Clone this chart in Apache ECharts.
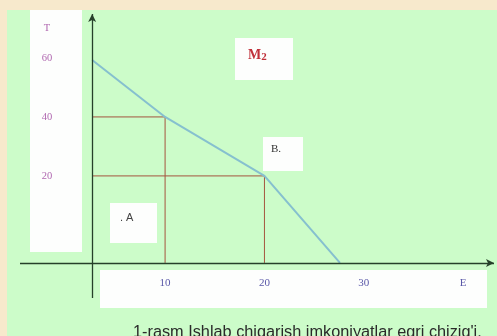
<!DOCTYPE html>
<html>
<head>
<meta charset="utf-8">
<script src="https://cdn.jsdelivr.net/npm/echarts@6/dist/echarts.min.js"></script>
<style>
  html, body { margin: 0; padding: 0; background: #f7e9cc; }
  #chart { width: 497px; height: 336px; }
</style>
</head>
<body>
<div id="chart"></div>
<script>
// tick labels (values on the axes)
const xTicks = [10, 20, 30, 40];
const xTickLabels = ['10', '20', '30', 'E'];
const yTicks = [20, 40, 60, 70];
const yTickLabels = ['20', '40', '60', 'T'];

// production possibilities curve
const curveE = [2.66, 10, 20, 27.6];
const curveT = [59.3, 40, 20, -9.5];

// guide lines (points A and B)
const guideE = [10, 20];
const guideT = [40, 20];

// where the drawn axes cross, and how far they run
const crossE = 2.66, crossT = -9.5;
const xRange = [-4.6, 43.1];
const yRange = [-21.4, 74.9];

const chart = echarts.init(document.getElementById('chart'));

const curveData = curveE.map((e, i) => [e, curveT[i]]);
const guideSeries = guideE.map((e, i) => ({
    type: 'line',
    data: [[crossE, guideT[i]], [e, guideT[i]], [e, crossT]],
    symbol: 'none',
    silent: true,
    lineStyle: { color: '#a4543e', width: 1 },
    z: 3
}));

const option = {
    animation: false,
    backgroundColor: '#f7e9cc',
    graphic: [
        // green sheet
        { type: 'rect', shape: { x: 7, y: 10, width: 490, height: 326 }, style: { fill: '#ccfcc9' }, z: -10 },
        // white label strips
        { type: 'rect', shape: { x: 30, y: 10, width: 52, height: 242 }, style: { fill: '#fdfefd' }, z: -5 },
        { type: 'rect', shape: { x: 100, y: 270, width: 387, height: 38 }, style: { fill: '#fdfefd' }, z: -5 },
        { type: 'rect', shape: { x: 235, y: 38, width: 58, height: 42 }, style: { fill: '#fdfefd' }, z: -5 },
        { type: 'rect', shape: { x: 263, y: 137, width: 40, height: 34 }, style: { fill: '#fdfefd' }, z: -5 },
        { type: 'rect', shape: { x: 110, y: 203, width: 47, height: 40 }, style: { fill: '#fdfefd' }, z: -5 },
        // annotations
        { type: 'text', left: 248, top: 48, style: { text: 'M{s|2}', fill: '#c0303a', font: 'bold 14px "Liberation Serif"',
            rich: { s: { fill: '#c0303a', fontSize: 11, fontWeight: 'bold', fontFamily: 'Liberation Serif', padding: [5, 0, 0, 0] } } }, z: 10 },
        { type: 'text', left: 271, top: 144, style: { text: 'B.', fill: '#333', font: '11px "Liberation Serif"' }, z: 10 },
        { type: 'text', left: 120, top: 212, style: { text: '. A', fill: '#444', font: '11px "Liberation Sans"' }, z: 10 },
        // caption
        { type: 'text', left: 133, top: 325, style: { text: "1-rasm Ishlab chiqarish imkoniyatlar egri chizig'i.", fill: '#2a2a2a', font: '16.3px "Liberation Sans"' }, z: 10 }
    ],
    grid: { left: 20, right: 3, top: 14, bottom: 38 },
    xAxis: {
        type: 'value',
        min: xRange[0],
        max: xRange[1],
        axisLine: { show: false },
        axisTick: { show: false },
        splitLine: { show: false },
        axisLabel: {
            inside: true,
            margin: 15,
            verticalAlign: 'middle',
            customValues: xTicks,
            formatter: v => xTickLabels[xTicks.indexOf(v)],
            color: '#5a58a8',
            fontSize: 11,
            fontFamily: 'Liberation Serif'
        }
    },
    yAxis: {
        type: 'value',
        min: yRange[0],
        max: yRange[1],
        axisLine: { show: false },
        axisTick: { show: false },
        splitLine: { show: false },
        axisLabel: {
            inside: true,
            margin: 27,
            align: 'center',
            verticalAlign: 'middle',
            padding: [0, 0, 10, 0],
            customValues: yTicks,
            formatter: v => yTickLabels[yTicks.indexOf(v)],
            color: '#b068b0',
            fontSize: 10.5,
            fontFamily: 'Liberation Serif'
        }
    },
    series: [
        {
            type: 'line',
            data: [],
            silent: true,
            markLine: {
                silent: true,
                symbol: ['none', 'arrow'],
                symbolSize: [6, 8],
                label: { show: false },
                lineStyle: { color: '#26402a', width: 1.3, type: 'solid' },
                data: [
                    [{ coord: [xRange[0], crossT] }, { coord: [xRange[1], crossT] }],
                    [{ coord: [crossE, yRange[0]] }, { coord: [crossE, yRange[1]] }]
                ]
            }
        },
        ...guideSeries,
        {
            type: 'line',
            data: curveData,
            symbol: 'none',
            silent: true,
            lineStyle: { color: '#86c0cf', width: 2 },
            z: 4
        }
    ]
};

chart.setOption(option);
</script>
</body>
</html>
